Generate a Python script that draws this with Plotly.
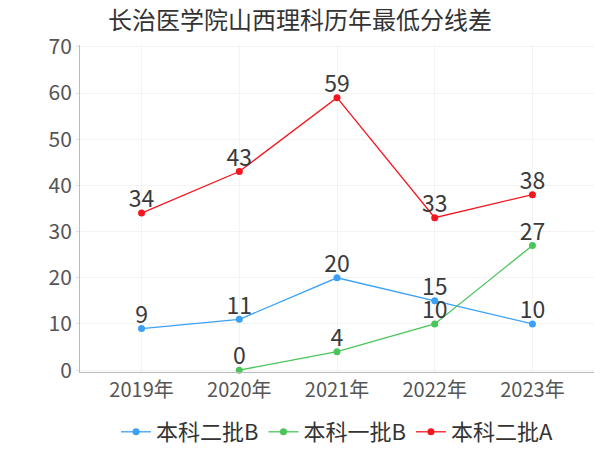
import plotly.graph_objects as go

years = ["2019年", "2020年", "2021年", "2022年", "2023年"]
erpi_b = [9, 11, 20, 15, 10]
yipi_b = [None, 0, 4, 10, 27]
erpi_a = [34, 43, 59, 33, 38]

series = [
    ("本科二批B", erpi_b, "#3ba1f8"),
    ("本科一批B", yipi_b, "#4ac55a"),
    ("本科二批A", erpi_a, "#f5151f"),
]

FONT = "Noto Sans CJK SC, Noto Sans, sans-serif"

fig = go.Figure()
for name, vals, color in series:
    fig.add_trace(
        go.Scatter(
            x=years,
            y=vals,
            name=name,
            mode="lines+markers",
            line=dict(color=color, width=1.3),
            marker=dict(size=7, color=color),
            cliponaxis=False,
            connectgaps=False,
        )
    )
# value labels sit right on top of the points
for name, vals, color in series:
    fig.add_trace(
        go.Scatter(
            x=years,
            y=vals,
            mode="text",
            text=[("" if v is None else str(v)) for v in vals],
            textposition="top center",
            textfont=dict(size=23, color="#3a3a3a", family=FONT),
            cliponaxis=False,
            showlegend=False,
            hoverinfo="skip",
        )
    )

fig.update_layout(
    width=600,
    height=450,
    paper_bgcolor="white",
    plot_bgcolor="white",
    font=dict(family=FONT, color="#555"),
    title=dict(
        text="长治医学院山西理科历年最低分线差",
        x=0.5,
        xanchor="center",
        y=0.955,
        yanchor="middle",
        font=dict(size=24, color="#333"),
    ),
    margin=dict(l=80, r=6, t=45, b=78),
    xaxis=dict(
        type="category",
        range=[-0.63, 4.63],
        automargin=False,
        showline=True,
        linecolor="#bbb",
        linewidth=1,
        showgrid=True,
        gridcolor="#f3f3f3",
        ticks="",
        tickfont=dict(size=20, color="#555"),
        fixedrange=True,
    ),
    yaxis=dict(
        range=[-0.4, 70.4],
        dtick=10,
        automargin=False,
        showline=True,
        linecolor="#bbb",
        linewidth=1,
        showgrid=True,
        gridcolor="#f3f3f3",
        zeroline=False,
        ticks="outside",
        ticklen=3,
        tickcolor="#ddd",
        tickfont=dict(size=21, color="#555"),
    ),
    legend=dict(
        orientation="h",
        x=0.5,
        xanchor="center",
        yref="container",
        y=0.04,
        yanchor="middle",
        font=dict(size=22, color="#333"),
        itemwidth=30,
        tracegroupgap=0,
        traceorder="normal",
    ),
)

# the page body has an 8px default margin; drop it so the figure sits at 0,0
fig.write_html(
    "out.html",
    config={"displayModeBar": False},
    post_script="document.body.style.margin='0';",
)
